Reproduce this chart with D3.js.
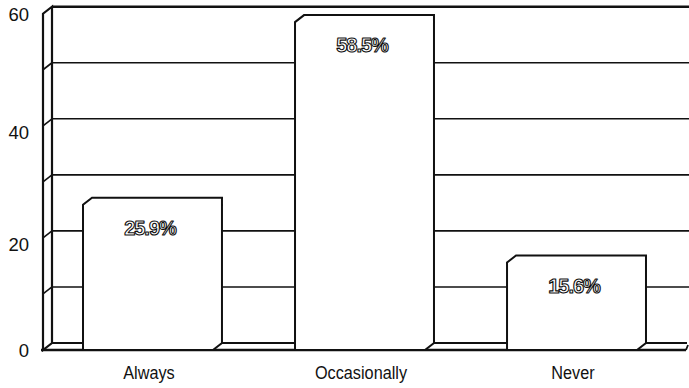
<!DOCTYPE html>
<html>
<head>
<meta charset="utf-8">
<script src="https://cdn.jsdelivr.net/npm/d3@7"></script>
<style>
  html, body { margin: 0; padding: 0; background: #fff; }
  svg { display: block; }
  .lbl { font-family: "Liberation Sans", Arial, Helvetica, sans-serif; }
</style>
</head>
<body>
<svg id="chart" width="689" height="388"></svg>
<script>
// Survey answers and their shares (%)
const categories = ["Always", "Occasionally", "Never"];
const shares = [25.9, 58.5, 15.6];
const yTicks = [0, 20, 40, 60];
const gridValues = [10, 20, 30, 40, 50, 60];

const W = 689, H = 388;
const svg = d3.select("#chart");

// Oblique depth offset between the front plane and the back wall
const depth = { dx: 9, dy: -7 };

// Back-wall value scale; the front plane is the same shifted by the depth
const yBack = d3.scaleLinear().domain([0, 60]).range([343, 6.7]);
const yFront = v => yBack(v) - depth.dy;

// Category bands on the front plane
const x = d3.scaleBand()
  .domain(categories)
  .range([44, 676])
  .paddingInner(0.387)
  .paddingOuter(0.184);

const wallFrontX = 43, wallBackX = wallFrontX + depth.dx, rightX = 689;

const ink = "#111";
const g = svg.append("g");

// Back-wall gridlines
g.selectAll("line.grid")
  .data(gridValues)
  .join("line")
  .attr("class", "grid")
  .attr("x1", wallBackX).attr("x2", rightX)
  .attr("y1", d => yBack(d)).attr("y2", d => yBack(d))
  .attr("stroke", ink)
  .attr("stroke-width", d => d === 60 ? 2.6 : 1.6);

// Gridline returns across the left side wall
g.selectAll("line.side")
  .data(gridValues.filter(v => v < 60))
  .join("line")
  .attr("class", "side")
  .attr("x1", wallFrontX).attr("y1", d => yFront(d))
  .attr("x2", wallBackX).attr("y2", d => yBack(d))
  .attr("stroke", ink).attr("stroke-width", 1.6);

// Left side wall outline
g.append("path")
  .attr("d", [
    `M${wallFrontX},${yFront(0)}`,
    `L${wallFrontX},${yFront(60)}`,
    `L${wallBackX},${yBack(60)}`,
    `L${wallBackX},${yBack(0)}`,
    `Z`
  ].join(""))
  .attr("fill", "none").attr("stroke", ink).attr("stroke-width", 2.2);

// Floor: back edge and front edge
g.append("line")
  .attr("x1", wallBackX).attr("x2", rightX - 2)
  .attr("y1", yBack(0)).attr("y2", yBack(0))
  .attr("stroke", ink).attr("stroke-width", 1.8);
g.append("line")
  .attr("x1", wallFrontX - 2).attr("x2", rightX - depth.dx + 6)
  .attr("y1", yFront(0)).attr("y2", yFront(0))
  .attr("stroke", ink).attr("stroke-width", 2.4);
g.append("line")
  .attr("x1", rightX - depth.dx + 6).attr("y1", yFront(0))
  .attr("x2", rightX - 1).attr("y2", yBack(0) + 2)
  .attr("stroke", ink).attr("stroke-width", 1.8);

// Bars: front face with top and right side in oblique projection
const bars = g.selectAll("g.bar")
  .data(categories.map((c, i) => ({ cat: c, value: shares[i] })))
  .join("g")
  .attr("class", "bar");

bars.append("path")
  .attr("d", d => {
    const x0 = x(d.cat), x1 = x0 + x.bandwidth();
    const yt = yFront(d.value), yb = yFront(0);
    return [
      `M${x0},${yb}`,
      `L${x0},${yt}`,
      `L${x0 + depth.dx},${yt + depth.dy}`,
      `L${x1 + depth.dx},${yt + depth.dy}`,
      `L${x1 + depth.dx},${yb + depth.dy}`,
      `L${x1},${yb}`,
      `Z`
    ].join("");
  })
  .attr("fill", "#fff")
  .attr("stroke", ink)
  .attr("stroke-width", 2)
  .attr("stroke-linejoin", "miter");

// Value labels in hollow bold lettering
bars.append("text")
  .attr("class", "lbl")
  .attr("x", d => x(d.cat) + x.bandwidth() / 2 + 2)
  .attr("y", d => yFront(d.value) + 25)
  .attr("text-anchor", "middle")
  .attr("dominant-baseline", "middle")
  .attr("font-size", 20)
  .attr("font-weight", "bold")
  .attr("fill", "#fff")
  .attr("stroke", ink)
  .attr("stroke-width", 1.1)
  .attr("stroke-linejoin", "round")
  .attr("letter-spacing", -1)
  .text(d => d.value.toFixed(1) + "%");

// Category labels, slightly condensed
g.selectAll("text.cat")
  .data(categories)
  .join("text")
  .attr("class", "cat lbl")
  .attr("transform", d => `translate(${x(d) + x.bandwidth() / 2 + 1},379) scale(0.93,1)`)
  .attr("text-anchor", "middle")
  .attr("font-size", 17.5)
  .attr("fill", ink)
  .text(d => d);

// Value axis labels
g.selectAll("text.ytick")
  .data(yTicks)
  .join("text")
  .attr("class", "ytick lbl")
  .attr("x", 29)
  .attr("y", d => yFront(d) + (d > 0 && d < 60 ? 8 : 2))
  .attr("text-anchor", "end")
  .attr("dominant-baseline", "middle")
  .attr("font-size", 18.5)
  .attr("fill", ink)
  .text(d => d);
</script>
</body>
</html>
